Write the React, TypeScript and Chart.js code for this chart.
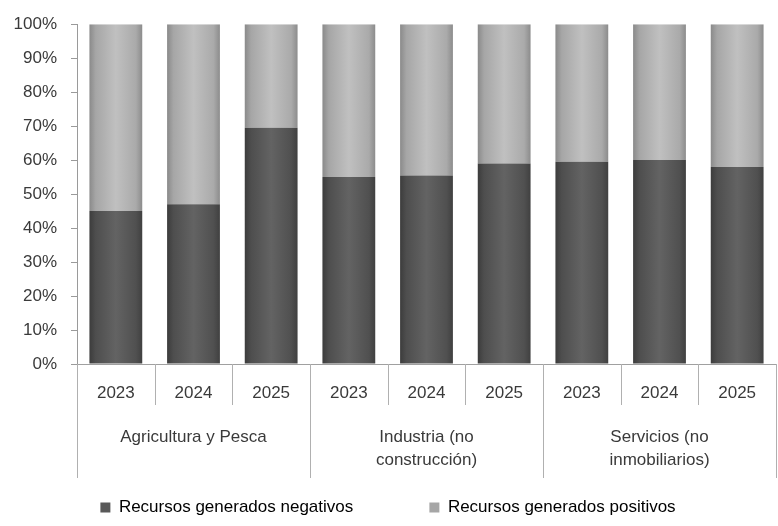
import React, { useEffect, useRef } from "react";
import { Chart, registerables } from "chart.js";

Chart.register(...registerables);

const years = ["2023", "2024", "2025", "2023", "2024", "2025", "2023", "2024", "2025"];
const groups = [["Agricultura y Pesca"], ["Industria (no", "construcción)"], ["Servicios (no", "inmobiliarios)"]];
const negativos = [45, 47, 69.5, 55, 55.5, 59, 59.5, 60, 58];
const positivos = [55, 53, 30.5, 45, 44.5, 41, 40.5, 40, 42];
const yTicks = [0, 10, 20, 30, 40, 50, 60, 70, 80, 90, 100];
const seriesNames = ["Recursos generados negativos", "Recursos generados positivos"];

const FONT = "'Liberation Sans', Arial, sans-serif";
const TEXT = "#3a3a3a";

function cylinderFill(stops: string[], flat: string) {
  return (ctx: any) => {
    const chart = ctx.chart;
    if (!chart.chartArea || ctx.dataIndex === undefined) return flat;
    const xs = chart.scales.x;
    const cx = xs.getPixelForValue(ctx.dataIndex);
    const w = (xs.width / years.length) * 0.68;
    const g = chart.ctx.createLinearGradient(cx - w / 2, 0, cx + w / 2, 0);
    g.addColorStop(0, stops[0]);
    g.addColorStop(0.12, stops[1]);
    g.addColorStop(0.5, stops[2]);
    g.addColorStop(0.88, stops[3]);
    g.addColorStop(1, stops[4]);
    return g;
  };
}

const separators = {
  id: "separators",
  afterDraw(chart: any) {
    const xs = chart.scales.x;
    const x2 = chart.scales.x2;
    const c = chart.ctx;
    c.save();
    c.strokeStyle = "#b0b0b0";
    c.lineWidth = 1;
    const n = years.length;
    for (let i = 0; i <= n; i++) {
      let px: number;
      if (i === 0) px = xs.left;
      else if (i === n) px = xs.right;
      else px = (xs.getPixelForValue(i - 1) + xs.getPixelForValue(i)) / 2;
      const long = i % 3 === 0;
      const bottom = long ? x2.top + 73 : xs.bottom;
      c.beginPath();
      c.moveTo(Math.round(px) + 0.5, xs.top);
      c.lineTo(Math.round(px) + 0.5, bottom);
      c.stroke();
    }
    c.restore();
  },
};

export default function App() {
  const ref = useRef<HTMLCanvasElement | null>(null);
  useEffect(() => {
    document.body.style.margin = "0";
    const canvas = ref.current!;
    const chart = new Chart(canvas, {
      type: "bar",
      data: {
        labels: years,
        datasets: [
          {
            label: seriesNames[0],
            data: negativos,
            backgroundColor: cylinderFill(["#3c3c3c", "#4e4e4e", "#636363", "#505050", "#404040"], "#5a5a5a"),
            borderWidth: 0,
            barPercentage: 0.68,
            categoryPercentage: 1,
          },
          {
            label: seriesNames[1],
            data: positivos,
            backgroundColor: cylinderFill(["#8a8a8a", "#a6a6a6", "#c0c0c0", "#aaaaaa", "#8c8c8c"], "#a8a8a8"),
            borderWidth: 0,
            barPercentage: 0.68,
            categoryPercentage: 1,
          },
        ],
      },
      options: {
        animation: false,
        responsive: false,
        maintainAspectRatio: false,
        layout: { padding: { top: 24, right: 2, left: 0, bottom: 0 } },
        plugins: {
          tooltip: { enabled: false },
          legend: {
            position: "bottom",
            labels: {
              font: { family: FONT, size: 17 },
              color: TEXT,
              boxWidth: 10,
              boxHeight: 10,
              padding: 10,
              generateLabels: () => [
                { text: seriesNames[0] + "              ", fillStyle: "#595959", strokeStyle: "#595959", lineWidth: 0, datasetIndex: 0 } as any,
                { text: seriesNames[1], fillStyle: "#a6a6a6", strokeStyle: "#a6a6a6", lineWidth: 0, datasetIndex: 1 } as any,
              ],
            },
          },
        },
        scales: {
          x: {
            stacked: true,
            offset: true,
            grid: { display: false, drawTicks: false, tickLength: 0 },
            border: { display: true, color: "#a0a0a0" },
            ticks: { font: { family: FONT, size: 17 }, color: TEXT, padding: 19, maxRotation: 0, autoSkip: false },
            afterFit: (s: any) => { s.height = 41; },
          },
          x2: {
            type: "category",
            position: "bottom",
            labels: groups as any,
            offset: true,
            grid: { display: false, drawTicks: false, tickLength: 0 },
            border: { display: false },
            ticks: { font: { family: FONT, size: 17, lineHeight: 1.35 }, color: TEXT, padding: 21, maxRotation: 0, autoSkip: false },
            afterFit: (s: any) => { s.height = 84; },
          },
          y: {
            stacked: true,
            min: 0,
            max: 100,
            afterBuildTicks: (s: any) => { s.ticks = yTicks.map((v) => ({ value: v })); },
            grid: { display: true, drawOnChartArea: false, drawTicks: true, tickLength: 6, color: "#9a9a9a" },
            border: { display: true, color: "#9a9a9a" },
            ticks: { font: { family: FONT, size: 17 }, color: TEXT, padding: 14, callback: (v: any) => v + "%" },
            afterFit: (s: any) => { s.width = 77; },
          },
        },
      },
      plugins: [separators],
    });
    return () => chart.destroy();
  }, []);
  return <canvas ref={ref} width={778} height={526} style={{ display: "block" }} />;
}
